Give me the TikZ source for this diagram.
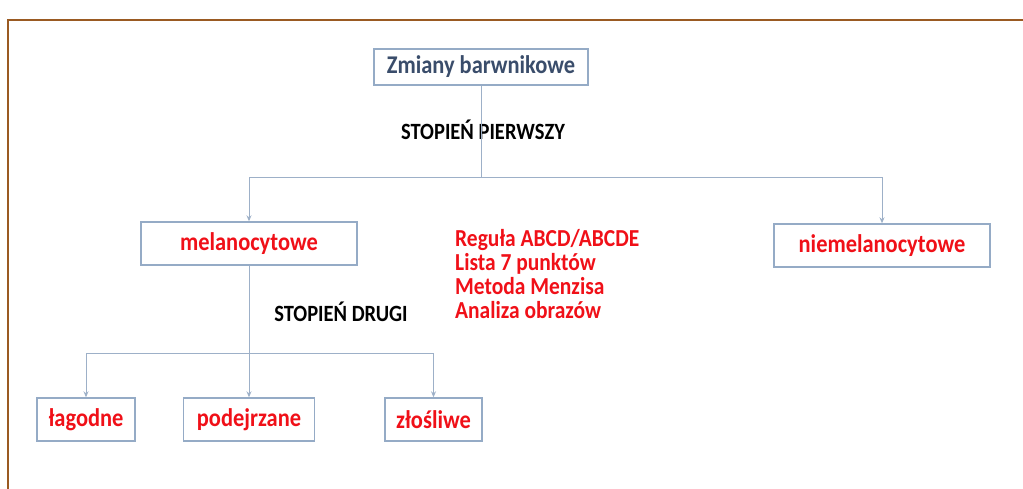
\documentclass[tikz,border=0pt]{standalone}
\usepackage{fontspec}
\setmainfont{Carlito}[FakeStretch=0.88]
\usetikzlibrary{arrows.meta}
\definecolor{boxline}{HTML}{95ABC6}
\definecolor{connline}{HTML}{9DB0C8}
\definecolor{titleblue}{HTML}{3A4D6B}
\definecolor{redtext}{HTML}{F01018}
\definecolor{framebrown}{HTML}{9A5A22}
\tikzset{
  box/.style={draw=boxline, line width=1.4pt, fill=white, inner sep=0pt,
    font=\fontsize{25.5}{28}\selectfont\bfseries, text=redtext},
  conn/.style={draw=connline, line width=1pt},
  arr/.style={conn, -{Stealth[length=6pt,width=5pt]}},
  lbl/.style={font=\fontsize{23.3}{26}\selectfont\bfseries, text=black},
}
\begin{document}
\begin{tikzpicture}[x=1pt,y=-1pt]
\useasboundingbox (0,0) rectangle (1023,488);
\draw[framebrown, line width=2pt] (8,489) -- (8,20) -- (1024,20);

\node[box, text=titleblue, minimum width=214pt, minimum height=36pt] (zm) at (481,67) {Zmiany barwnikowe};
\node[box, minimum width=216pt, minimum height=43pt] (mel) at (249,243.5) {melanocytowe};
\node[box, minimum width=216pt, minimum height=43pt] (niem) at (882,245.5) {niemelanocytowe};
\node[box, minimum width=98pt, minimum height=43pt] (lag) at (86,419.5) {łagodne};
\node[box, minimum width=131pt, minimum height=43pt] (pod) at (249,419.5) {podejrzane};
\node[box, minimum width=97pt, minimum height=43pt] (zlo) at (433.5,419.5) {złośliwe};

\node[lbl] (s1) at (483,130) {STOPIEŃ PIERWSZY};
\node[lbl] (s2) at (341,312) {STOPIEŃ DRUGI};
\node[anchor=west, align=left, text=redtext, inner sep=0pt,
  font=\fontsize{24.4}{24}\selectfont\bfseries] (list) at (455,274)
  {Reguła ABCD/ABCDE\\Lista 7 punktów\\Metoda Menzisa\\Analiza obrazów};

\coordinate (j1) at (481,177);
\coordinate (j2) at (249,353);
\draw[conn] (zm.south) -- (j1);
\draw[arr] (j1) -| (mel.north);
\draw[arr] (j1) -| (niem.north);
\draw[conn] (mel.south) -- (j2);
\draw[arr] (j2) -| (lag.north);
\draw[arr] (j2) -- (pod.north);
\draw[arr] (j2) -| (zlo.north);
\end{tikzpicture}
\end{document}
